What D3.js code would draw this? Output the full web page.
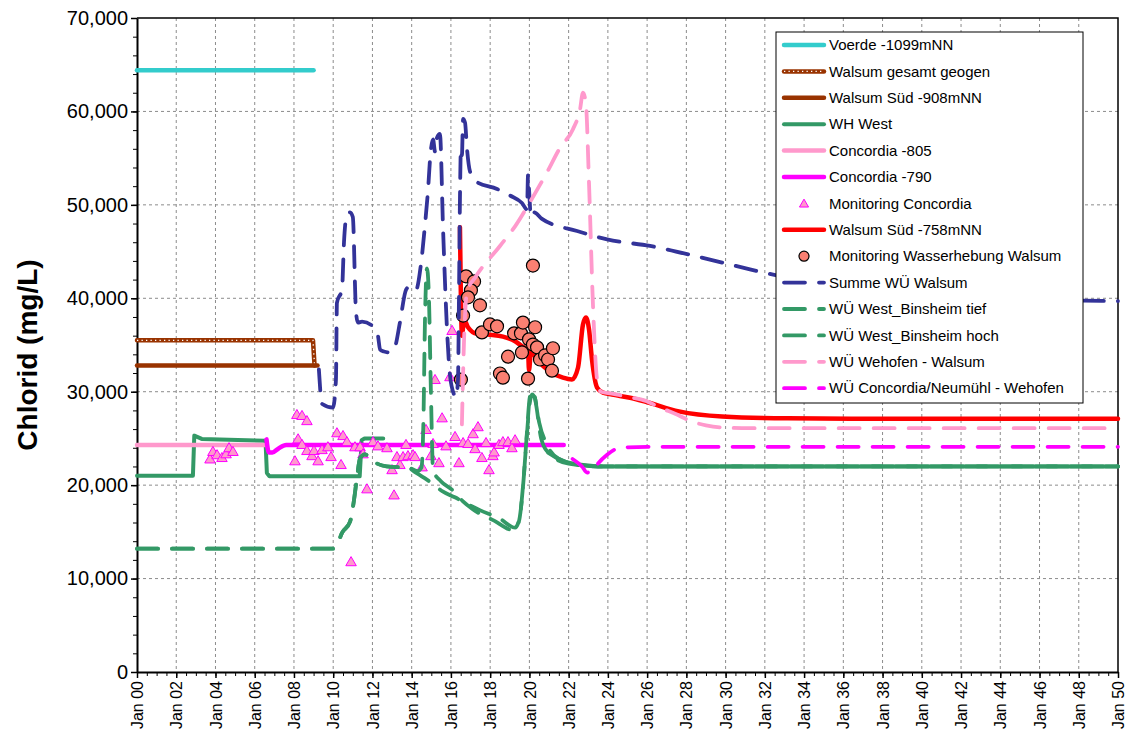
<!DOCTYPE html>
<html>
<head>
<meta charset="utf-8">
<script src="https://cdn.jsdelivr.net/npm/d3@7"></script>
<style>
body { margin: 0; background: #fff; }
svg text { font-family: "Liberation Sans", Arial, sans-serif; fill: #000; }
</style>
</head>
<body>
<div id="chart"></div>
<script>
// axis ticks (years after 2000, chlorid in mg/L)
var xTicks = [0, 2, 4, 6, 8, 10, 12, 14, 16, 18, 20, 22, 24, 26, 28, 30, 32, 34, 36, 38, 40, 42, 44, 46, 48, 50];
var yTicks = [0, 10000, 20000, 30000, 40000, 50000, 60000, 70000];

var seriesNames = ["Voerde -1099mNN", "Walsum gesamt geogen", "Walsum Süd -908mNN", "WH West",
    "Concordia -805", "Concordia -790", "Monitoring Concordia", "Walsum Süd -758mNN",
    "Monitoring Wasserhebung Walsum", "Summe WÜ Walsum", "WÜ West_Binsheim tief",
    "WÜ West_Binsheim hoch", "WÜ Wehofen - Walsum", "WÜ Concordia/Neumühl - Wehofen"];

// [year, value]
var voerde = [[0, 64400], [9.0, 64400]];
var walsumGesamt = [[0, 35500], [8.97, 35500], [9.05, 32800]];
var walsumSued908 = [[0, 32800], [9.2, 32800]];
var whWest = [[0, 21000], [2.85, 21000], [2.92, 25300], [3.3, 24950], [6.55, 24750], [6.62, 21300], [6.75, 20950],
    [11.35, 20950], [11.45, 24800], [11.6, 25000], [12.55, 25000], null,
    [20.95, 23500], [21.4, 22900], [21.9, 22450], [22.5, 22200], [23.5, 22000], [50, 22000]];
var concordia805 = [[0, 24300], [6.55, 24300]];
var concordia790 = [[6.6, 24900], [6.72, 23500], [6.9, 23500], [7.2, 23900], [7.6, 24300], [21.75, 24300]];
var monitoringConcordia = [[3.72, 22700], [3.87, 23500], [4.08, 23150], [4.33, 22850], [4.54, 23250], [4.69, 23900], [4.89, 23500],
    [8.15, 27450], [8.41, 27350], [8.66, 26800], [8.21, 24850], [8.41, 24250], [8.05, 22500], [8.66, 23600], [8.92, 23050],
    [9.02, 23600], [9.23, 22500], [9.43, 23700], [9.73, 24000], [9.89, 22950], [10.19, 25500], [10.5, 25200], [10.7, 24550],
    [10.4, 22100], [10.91, 11700], [11.11, 24000], [11.37, 24000], [11.52, 23250], [11.72, 19500], [12.03, 24550],
    [12.28, 24100], [12.74, 23900], [13.0, 21550], [13.1, 18850], [13.25, 22950], [13.4, 22100], [13.56, 22950],
    [13.71, 24250], [13.81, 23050], [14.07, 23150], [14.17, 22950], [14.53, 21850], [14.73, 25850], [14.98, 23050],
    [15.09, 24350], [15.19, 31200], [15.39, 22300], [15.55, 27100], [15.75, 24100], [15.95, 31500], [16.06, 36450],
    [16.21, 25100], [16.41, 22300], [16.62, 24450], [16.87, 24350], [17.13, 25400], [17.23, 23800], [17.38, 26150],
    [17.58, 22850], [17.79, 24450], [17.94, 21550], [18.14, 23050], [18.2, 23450], [18.45, 24250], [18.65, 24550],
    [18.91, 24550], [19.11, 23900], [19.27, 24750]];
var walsumSued758 = [[16.46, 47600], [16.51, 39900], [16.56, 36000], [16.67, 37700], [16.87, 36900], [17.33, 36200],
    [17.99, 36100], [18.65, 35900], [19.27, 35400], [19.67, 34800], [19.93, 34400], [19.98, 32300], [20.08, 34300],
    [20.39, 33450], [21.05, 32150], [21.71, 31500], [22.17, 31300], [22.48, 32600], [22.73, 37200], [22.88, 37950],
    [23.04, 36650], [23.19, 33450], [23.45, 30450], [23.75, 29900], [24.21, 29700], [25.13, 29350], [25.89, 28950],
    [27.62, 27900], [29.82, 27350], [33.18, 27150], [38.74, 27100], [50, 27100]];
var monitoringWalsum = [[16.51, 31300], [16.62, 38150], [16.77, 42350], [17.18, 41800], [17.02, 40850], [16.87, 40100],
    [17.48, 39250], [17.58, 36350], [17.99, 37200], [18.35, 37000], [18.5, 31950], [18.65, 31500], [18.91, 33750],
    [19.22, 36250], [19.57, 36250], [19.67, 37400], [19.62, 34200], [19.98, 35600], [20.18, 35050], [19.93, 31400],
    [20.29, 36900], [20.39, 34750], [20.54, 33450], [20.8, 33900], [20.95, 33450], [21.15, 32250], [21.2, 34650],
    [20.18, 43500]];
var summeWU = [[9.27, 32400], [9.43, 28700], [9.99, 28300], [10.14, 31300], [10.19, 39500], [10.45, 41000], [10.55, 46000],
    [10.7, 49000], [10.86, 49200], [11.0, 48700], [11.16, 38600], [11.26, 37400], [11.47, 37500], [12.03, 37000],
    [12.28, 36000], [12.39, 34500], [12.59, 34300], [12.9, 34200], [13.15, 34800], [13.4, 37400], [13.71, 40900],
    [13.91, 41300], [14.22, 40900], [14.47, 43600], [14.68, 47900], [14.83, 51500], [14.96, 55500], [15.09, 57000],
    [15.19, 55700], [15.29, 57200], [15.44, 57600], [15.6, 47400], [15.8, 36700], [15.95, 31800], [16.16, 29700],
    [16.26, 29400], [16.36, 31300], [16.41, 39900], [16.46, 50600], [16.51, 56000], [16.56, 55300], [16.62, 59200],
    [16.72, 58800], [16.82, 56000], [16.97, 53600], [17.28, 52500], [18.35, 51700], [19.01, 51000], [19.62, 50200],
    [19.88, 49500], [19.93, 53200], [19.98, 51700], [20.08, 48700], [20.23, 49200], [20.64, 48500], [22.43, 47200],
    [23.96, 46300], [26.15, 45600], [28.7, 44400], [31.24, 43100], [33.79, 41900], [36.34, 40900], [38.89, 40300],
    [41.44, 40000], [43.98, 39900], [50, 39700]];
var binsheimTief = [[0, 13200], [10.0, 13200], [10.19, 13600], [10.45, 14900], [10.86, 16100], [11.06, 18400], [11.21, 20800],
    [11.37, 22900], [11.62, 23300], [12.0, 22600], [12.5, 22100], [13.0, 21950], [13.8, 21900], [14.17, 21400],
    [14.9, 20400], [15.6, 19300], [16.2, 18700], [16.9, 17900], [17.5, 17300], [18.5, 16400], [19.27, 15450],
    [19.5, 16500], [19.67, 19800], [19.83, 24200], [20.0, 28500], [20.13, 29700], [20.28, 29300], [20.5, 26700],
    [20.9, 24300], [21.5, 22800], [22.5, 22200], [23.5, 22000], [50, 22000]];
var binsheimHoch = [[0, 13200], [10.0, 13200], [10.19, 13600], [10.45, 14900], [10.86, 16100], [11.06, 18400], [11.21, 20800],
    [11.37, 22900], [11.62, 23300], [12.0, 22600], [12.5, 22100], [13.0, 21950], [13.8, 21900], [14.3, 21500],
    [14.5, 21900], [14.6, 27000], [14.68, 38000], [14.78, 43200], [14.88, 40000], [14.98, 30000], [15.09, 21600],
    [15.5, 20400], [16.06, 19500], [16.6, 18300], [17.2, 17300], [18.2, 16200], [19.16, 15200], [19.45, 16000],
    [19.7, 20500], [19.87, 25500], [20.03, 29500], [20.2, 30100], [20.35, 28500], [20.6, 25000], [21.0, 23400],
    [22.0, 22300], [23.5, 22000], [50, 22000]];
var wehofenWalsum = [[16.56, 26500], [16.67, 35600], [16.82, 40700], [17.23, 42200], [18.5, 45600], [19.27, 47700],
    [20.03, 50300], [20.9, 53500], [21.56, 56100], [22.22, 58100], [22.58, 60200], [22.73, 62000], [22.88, 60800],
    [23.04, 52200], [23.24, 39300], [23.45, 31300], [23.65, 30000], [24.21, 29800], [25.13, 29400], [25.89, 29050],
    [26.66, 28300], [27.52, 27550], [28.29, 26800], [29.0, 26400], [29.92, 26150], [31.24, 26100], [50, 26100]];
var concordiaNeumuehl = [[22.2, 22800], [22.68, 22000], [22.94, 21350], [23.2, 21500], [23.45, 22200], [23.96, 23250],
    [24.46, 23900], [24.97, 24050], [26, 24100], [50, 24100]];

var series = [
    { name: seriesNames[0], data: voerde, kind: "line", color: "#33CCCC", width: 4.5, curve: d3.curveLinear },
    { name: seriesNames[1], data: walsumGesamt, kind: "dotted", color: "#993300", width: 4.5, curve: d3.curveLinear },
    { name: seriesNames[2], data: walsumSued908, kind: "line", color: "#993300", width: 4.5, curve: d3.curveLinear },
    { name: seriesNames[3], data: whWest, kind: "line", color: "#339966", width: 4, curve: d3.curveLinear },
    { name: seriesNames[4], data: concordia805, kind: "line", color: "#FF99CC", width: 4.5, curve: d3.curveLinear },
    { name: seriesNames[5], data: concordia790, kind: "line", color: "#FF00FF", width: 4.5, curve: d3.curveMonotoneX },
    { name: seriesNames[6], data: monitoringConcordia, kind: "triangle", color: "#FF00FF", fill: "#FF99CC" },
    { name: seriesNames[7], data: walsumSued758, kind: "line", color: "#FF0000", width: 4.5, curve: d3.curveMonotoneX },
    { name: seriesNames[8], data: monitoringWalsum, kind: "circle", color: "#000", fill: "#FA8072" },
    { name: seriesNames[9], data: summeWU, kind: "dash", color: "#333399", width: 3.8, curve: d3.curveMonotoneX },
    { name: seriesNames[10], data: binsheimTief, kind: "dash", color: "#339966", width: 3.8, curve: d3.curveMonotoneX },
    { name: seriesNames[11], data: binsheimHoch, kind: "dash", color: "#339966", width: 3.8, curve: d3.curveMonotoneX },
    { name: seriesNames[12], data: wehofenWalsum, kind: "dash", color: "#FF99CC", width: 3.8, curve: d3.curveMonotoneX },
    { name: seriesNames[13], data: concordiaNeumuehl, kind: "dash", color: "#FF00FF", width: 3.8, curve: d3.curveMonotoneX }
];

var margin = { top: 18, right: 12, bottom: 70, left: 137 };
var width = 1130 - margin.left - margin.right;
var height = 742 - margin.top - margin.bottom;

var svg = d3.select("#chart").append("svg")
    .attr("width", 1130)
    .attr("height", 742);
var g = svg.append("g")
    .attr("transform", "translate(" + margin.left + "," + margin.top + ")");

var x = d3.scaleLinear().domain([0, 50]).range([0, width]);
var y = d3.scaleLinear().domain([0, 70000]).range([height, 0]);

// grid
g.append("g").selectAll("line")
    .data(xTicks.slice(1, -1))
    .enter().append("line")
    .attr("x1", function (d) { return x(d); })
    .attr("x2", function (d) { return x(d); })
    .attr("y1", 0).attr("y2", height)
    .attr("stroke", "#8c8c8c").attr("stroke-width", 1).attr("stroke-dasharray", "3,3");
g.append("g").selectAll("line")
    .data(yTicks.slice(1, -1))
    .enter().append("line")
    .attr("y1", function (d) { return y(d); })
    .attr("y2", function (d) { return y(d); })
    .attr("x1", 0).attr("x2", width)
    .attr("stroke", "#8c8c8c").attr("stroke-width", 1).attr("stroke-dasharray", "3,3");

// frame top / right
g.append("path")
    .attr("d", "M0,0H" + width + "V" + height)
    .attr("fill", "none").attr("stroke", "#000").attr("stroke-width", 1.5);

// axes
var fmtY = d3.format(",");
var yAxis = g.append("g")
    .call(d3.axisLeft(y).tickValues(yTicks).tickSize(6).tickSizeOuter(0).tickFormat(fmtY));
g.append("g")
    .call(d3.axisLeft(y).tickValues(d3.range(0, 70001, 2000)).tickSize(4).tickSizeOuter(0).tickFormat(""))
    .select(".domain").remove();
yAxis.selectAll("text").style("font-size", "20px").attr("x", -9);
yAxis.select(".domain").attr("stroke-width", 2);
yAxis.selectAll(".tick line").attr("stroke-width", 1.5);

var xAxis = g.append("g")
    .attr("transform", "translate(0," + height + ")")
    .call(d3.axisBottom(x).tickValues(xTicks).tickSize(6).tickSizeOuter(0)
        .tickFormat(function (d) { return "Jan " + d3.format("02")(d); }));
g.append("g")
    .attr("transform", "translate(0," + height + ")")
    .call(d3.axisBottom(x).tickValues(d3.range(0, 50.01, 0.5)).tickSize(4).tickSizeOuter(0).tickFormat(""))
    .select(".domain").remove();
xAxis.select(".domain").attr("stroke-width", 2);
xAxis.selectAll(".tick line").attr("stroke-width", 1.5);
xAxis.selectAll("text")
    .style("font-size", "16px")
    .style("text-anchor", "end")
    .attr("transform", "rotate(-90)")
    .attr("x", -9)
    .attr("y", 0)
    .attr("dy", "0.35em");

svg.append("text")
    .attr("transform", "translate(37," + (margin.top + height / 2 + 10) + ") rotate(-90)")
    .attr("text-anchor", "middle")
    .style("font-size", "28px")
    .style("font-weight", "bold")
    .text("Chlorid  (mg/L)");

// series
var plot = g.append("g");
series.forEach(function (s) {
    if (s.kind == "triangle") {
        plot.append("g").selectAll("path")
            .data(s.data)
            .enter().append("path")
            .attr("d", d3.symbol().type(d3.symbolTriangle).size(48))
            .attr("transform", function (d) { return "translate(" + x(d[0]) + "," + y(d[1]) + ")"; })
            .attr("fill", s.fill).attr("stroke", s.color).attr("stroke-width", 1);
        return;
    }
    if (s.kind == "circle") {
        plot.append("g").selectAll("circle")
            .data(s.data)
            .enter().append("circle")
            .attr("cx", function (d) { return x(d[0]); })
            .attr("cy", function (d) { return y(d[1]); })
            .attr("r", 6.5)
            .attr("fill", s.fill).attr("stroke", s.color).attr("stroke-width", 1.2);
        return;
    }
    var line = d3.line()
        .defined(function (d) { return d != null; })
        .x(function (d) { return x(d[0]); })
        .y(function (d) { return y(d[1]); })
        .curve(s.curve);
    var p = plot.append("path")
        .datum(s.data)
        .attr("d", line)
        .attr("fill", "none")
        .attr("stroke", s.color)
        .attr("stroke-width", s.width)
        .attr("stroke-linecap", "round")
        .attr("stroke-linejoin", "round");
    if (s.kind == "dash") p.attr("stroke-dasharray", "21,14");
    if (s.kind == "dotted") {
        plot.append("path")
            .datum(s.data)
            .attr("d", line)
            .attr("fill", "none")
            .attr("stroke", "#fff")
            .attr("stroke-width", 1.3)
            .attr("stroke-dasharray", "1.3,3.2");
    }
});

// legend
var legend = g.append("g")
    .attr("transform", "translate(" + (776 - margin.left) + "," + (32 - margin.top) + ")");
legend.append("rect")
    .attr("width", 307).attr("height", 371)
    .attr("fill", "#fff").attr("stroke", "#000").attr("stroke-width", 1);
series.forEach(function (s, i) {
    var row = legend.append("g").attr("transform", "translate(0," + (13 + i * 26.4) + ")");
    if (s.kind == "triangle") {
        row.append("path")
            .attr("d", d3.symbol().type(d3.symbolTriangle).size(36))
            .attr("transform", "translate(28,1)")
            .attr("fill", s.fill).attr("stroke", s.color).attr("stroke-width", 1);
    } else if (s.kind == "circle") {
        row.append("circle")
            .attr("cx", 28).attr("cy", 0).attr("r", 5)
            .attr("fill", s.fill).attr("stroke", s.color).attr("stroke-width", 1.2);
    } else {
        var l = row.append("line")
            .attr("x1", 8).attr("x2", 48).attr("y1", 0).attr("y2", 0)
            .attr("stroke", s.color).attr("stroke-width", s.width)
            .attr("stroke-linecap", "round");
        if (s.kind == "dash") l.attr("stroke-dasharray", "21,14");
        if (s.kind == "dotted") {
            row.append("line")
                .attr("x1", 8).attr("x2", 48).attr("y1", 0).attr("y2", 0)
                .attr("stroke", "#fff").attr("stroke-width", 1.3)
                .attr("stroke-dasharray", "1.3,3.2");
        }
    }
    row.append("text")
        .attr("x", 53).attr("y", 0).attr("dy", "0.35em")
        .style("font-size", "15px")
        .text(s.name);
});
</script>
</body>
</html>
